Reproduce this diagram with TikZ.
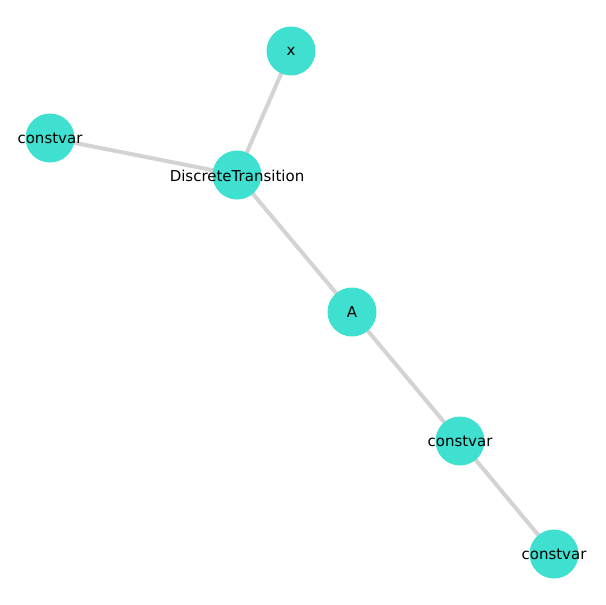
\documentclass[tikz,border=0pt]{standalone}
\usepackage{fontspec}
\setmainfont{DejaVu Sans}
\usetikzlibrary{backgrounds}
\definecolor{turq}{HTML}{40E0D0}
\definecolor{edgegray}{HTML}{D3D3D3}
\tikzstyle{vertex}=[circle, fill=turq, minimum size=49pt, inner sep=0pt]
\tikzstyle{lbl}=[font=\fontsize{15}{17}\selectfont, text=black, yshift=-0.5pt]

\begin{document}
\begin{tikzpicture}[x=1pt, y=-1pt]
    \useasboundingbox (0,0) rectangle (605,605);
    \node[vertex, label={[lbl]center:x}] (x) at (291,51) {};
    \node[vertex, label={[lbl]center:constvar}] (c1) at (50,138) {};
    \node[vertex, label={[lbl]center:DiscreteTransition}] (dt) at (237,175) {};
    \node[vertex, label={[lbl]center:A}] (a) at (352,312) {};
    \node[vertex, label={[lbl]center:constvar}] (c2) at (460,441) {};
    \node[vertex, label={[lbl]center:constvar}] (c3) at (554,554) {};
    \begin{scope}[on background layer]
    \path[draw, edgegray, line width=4pt]
    (x.center) edge (dt.center)
    (c1.center) edge (dt.center)
    (dt.center) edge (a.center)
    (a.center) edge (c2.center)
    (c2.center) edge (c3.center)
	;
    \end{scope}
  \end{tikzpicture}
\end{document}
